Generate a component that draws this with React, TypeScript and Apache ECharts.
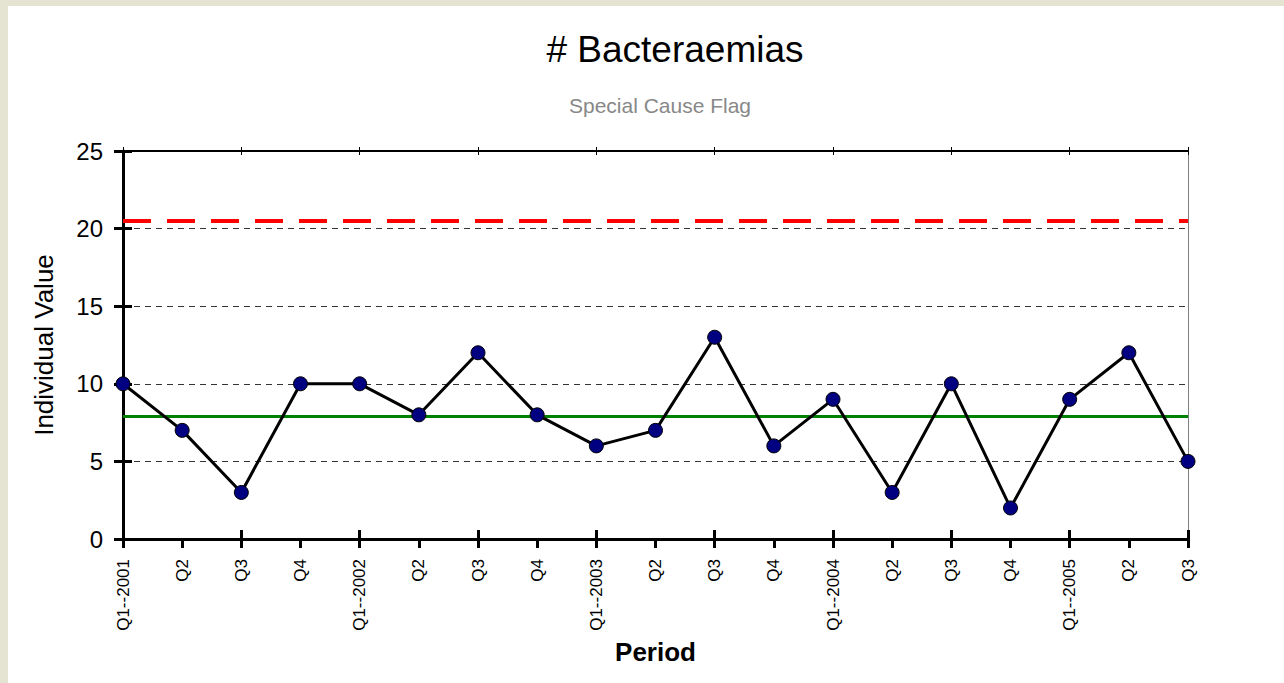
import React, { useEffect, useRef } from "react";
import * as echarts from "echarts";

const categories = [
  "Q1--2001", "Q2", "Q3", "Q4",
  "Q1--2002", "Q2", "Q3", "Q4",
  "Q1--2003", "Q2", "Q3", "Q4",
  "Q1--2004", "Q2", "Q3", "Q4",
  "Q1--2005", "Q2", "Q3",
];
const values = [10, 7, 3, 10, 10, 8, 12, 8, 6, 7, 13, 6, 9, 3, 10, 2, 9, 12, 5];
const centerLine = 7.9;
const upperLimit = 20.5;
const yMin = 0;
const yMax = 25;
const yInterval = 5;

const titleText = "# Bacteraemias";
const subtitleText = "Special Cause Flag";
const xName = "Period";
const yName = "Individual Value";

const FONT = "'Liberation Sans', Arial, Helvetica, sans-serif";

export default function App() {
  const ref = useRef<HTMLDivElement>(null);

  useEffect(() => {
    if (!ref.current) return;
    const chart = echarts.init(ref.current, undefined, { renderer: "svg" });

    const baseX = {
      type: "category" as const,
      data: categories,
      boundaryGap: false,
    };

    chart.setOption({
      animation: false,
      backgroundColor: "#ffffff",
      textStyle: { fontFamily: FONT },
      graphic: [
        {
          type: "text",
          x: 667,
          y: 43,
          style: {
            text: titleText,
            fontFamily: FONT,
            fontSize: 37,
            fill: "#000",
            textAlign: "center",
            textVerticalAlign: "middle",
          },
        },
        {
          type: "text",
          x: 652,
          y: 99,
          style: {
            text: subtitleText,
            fontFamily: FONT,
            fontSize: 21,
            fill: "#888888",
            textAlign: "center",
            textVerticalAlign: "middle",
          },
        },
      ],
      grid: { left: 115, right: 96, top: 145, bottom: 144, containLabel: false },
      xAxis: [
        {
          ...baseX,
          position: "bottom",
          name: xName,
          nameLocation: "middle",
          nameGap: 99,
          nameTextStyle: { fontFamily: FONT, fontSize: 26, fontWeight: "bold", color: "#000", verticalAlign: "top" },
          axisLine: { onZero: false, lineStyle: { color: "#000", width: 3 } },
          axisTick: { show: true, inside: false, length: 9, lineStyle: { color: "#000", width: 3 } },
          axisLabel: { rotate: 90, margin: 20, fontSize: 17, color: "#000", fontFamily: FONT, interval: 0 },
          splitLine: { show: false },
        },
        {
          ...baseX,
          position: "bottom",
          axisLine: { show: false, onZero: false },
          axisTick: { show: true, inside: true, length: 9, lineStyle: { color: "#000", width: 3 } },
          axisLabel: { show: false },
          splitLine: { show: false },
        },
        {
          ...baseX,
          position: "top",
          axisLine: { onZero: false, lineStyle: { color: "#000", width: 2 } },
          axisTick: { show: true, inside: true, length: 4, lineStyle: { color: "#000", width: 1 } },
          axisLabel: { show: false },
          splitLine: { show: false },
        },
        {
          ...baseX,
          position: "top",
          axisLine: { show: false, onZero: false },
          axisTick: { show: true, inside: false, length: 4, lineStyle: { color: "#000", width: 1 } },
          axisLabel: { show: false },
          splitLine: { show: false },
        },
      ],
      yAxis: [
        {
          type: "value",
          position: "left",
          min: yMin,
          max: yMax,
          interval: yInterval,
          name: yName,
          nameLocation: "middle",
          nameGap: 66,
          nameRotate: 90,
          nameTextStyle: { fontFamily: FONT, fontSize: 26, color: "#000" },
          axisLine: { show: true, onZero: false, lineStyle: { color: "#000", width: 3 } },
          axisTick: { show: true, inside: false, length: 9, lineStyle: { color: "#000", width: 3 } },
          axisLabel: { margin: 20, fontSize: 24, color: "#000", fontFamily: FONT },
          splitLine: { show: true, lineStyle: { color: "#333", width: 1, type: [6, 5] } },
        },
        {
          type: "value",
          position: "left",
          min: yMin,
          max: yMax,
          interval: yInterval,
          axisLine: { show: false, onZero: false },
          axisTick: { show: true, inside: true, length: 9, lineStyle: { color: "#000", width: 3 } },
          axisLabel: { show: false },
          splitLine: { show: false },
        },
        {
          type: "value",
          position: "right",
          min: yMin,
          max: yMax,
          interval: yInterval,
          axisLine: { show: true, onZero: false, lineStyle: { color: "#808080", width: 1 } },
          axisTick: { show: false },
          axisLabel: { show: false },
          splitLine: { show: false },
        },
      ],
      series: [
        {
          type: "line",
          xAxisIndex: 0,
          yAxisIndex: 0,
          data: values,
          symbol: "circle",
          symbolSize: 14,
          lineStyle: { color: "#000", width: 3 },
          itemStyle: { color: "#000080", borderColor: "#000", borderWidth: 1 },
          z: 5,
          markLine: {
            silent: true,
            symbol: "none",
            label: { show: false },
            data: [
              { yAxis: upperLimit, lineStyle: { color: "#ff0000", width: 4, type: [28, 16] } },
              { yAxis: centerLine, lineStyle: { color: "#008000", width: 3, type: "solid" } },
            ],
            z: 3,
          },
        },
      ],
    });

    return () => chart.dispose();
  }, []);

  return (
    <div
      style={{
        position: "absolute",
        left: 0,
        top: 0,
        width: 1284,
        height: 683,
        background: "#e5e3d2",
        overflow: "hidden",
      }}
    >
      <div
        ref={ref}
        style={{ position: "absolute", left: 8, top: 6, width: 1276, height: 677, background: "#fff" }}
      />
    </div>
  );
}
